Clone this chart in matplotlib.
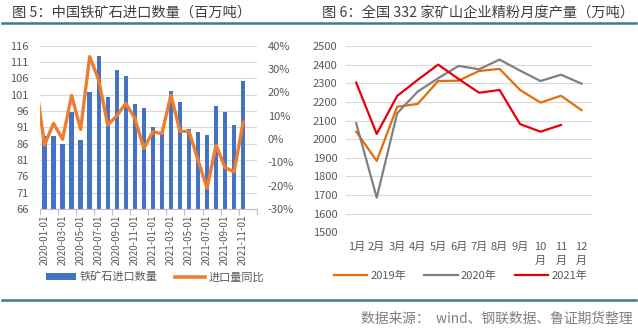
import matplotlib
matplotlib.use("Agg")
import matplotlib.pyplot as plt
from matplotlib.patches import Patch
from matplotlib.lines import Line2D
import numpy as np

plt.rcParams['font.family'] = ['Noto Sans CJK SC', 'DejaVu Sans']

# ---------------- data ----------------
months_left = ['2020-01-01', '2020-02-01', '2020-03-01', '2020-04-01', '2020-05-01', '2020-06-01',
               '2020-07-01', '2020-08-01', '2020-09-01', '2020-10-01', '2020-11-01', '2020-12-01',
               '2021-01-01', '2021-02-01', '2021-03-01', '2021-04-01', '2021-05-01', '2021-06-01',
               '2021-07-01', '2021-08-01', '2021-09-01', '2021-10-01', '2021-11-01', '2021-12-01']
import_volume = [88.5, 88.5, 86.0, 95.8, 87.1, 101.8, 112.9, 100.3, 108.7, 106.8, 98.2, 97.0,
                 91.1, 89.0, 102.1, 98.9, 90.5, 89.6, 88.8, 97.6, 95.8, 91.8, 105.2]
# yoy growth (%), first value is 2019-12 (partly outside the plot)
yoy_months = ['2019-12-01'] + months_left[:23]
yoy_pct = [25.0, -2.6, 6.7, -0.1, 18.7, 4.1, 35.3, 25.3, 6.0, 9.9, 15.3, 8.9, -4.0,
           3.1, 2.3, 18.9, 3.3, 3.3, -9.0, -21.1, -2.6, -12.3, -14.0, 7.2]

months_right = ['1月', '2月', '3月', '4月', '5月', '6月', '7月', '8月', '9月', '10\n月', '11\n月', '12\n月']
prod_2019 = [2040, 1883, 2174, 2189, 2312, 2314, 2366, 2377, 2264, 2196, 2233, 2156]
prod_2020 = [2085, 1686, 2139, 2255, 2327, 2393, 2375, 2427, 2368, 2312, 2346, 2298]
prod_2021 = [2303, 2028, 2232, 2318, 2400, 2323, 2249, 2264, 2081, 2040, 2076]

left_ticks = list(range(66, 117, 5))
right_ticks = list(range(-30, 41, 10))

# ---------------- style ----------------
TXT = '#595959'
GRID = '#D9D9D9'
TEAL = '#3B7F87'
BLUE = '#4472C4'
ORANGE = '#ED7D31'

fig = plt.figure(figsize=(6.38, 3.29), dpi=100)
fig.patch.set_facecolor('white')

# ---------------- left chart ----------------
ax = fig.add_axes([40/638, 1-209/329, (256.7-40)/638, (209-45.7)/329])
x_bar = np.arange(len(import_volume))
ax.bar(x_bar, [v - 66 for v in import_volume], bottom=66, width=0.48, color=BLUE, zorder=2)
ax.set_ylim(66, 116)
ax.set_yticks(left_ticks)
ax.set_yticklabels([str(t) for t in left_ticks])
ax.set_xlim(-0.5, len(months_left) - 0.5)
ax.yaxis.grid(True, color=GRID, linewidth=0.8, zorder=0)
ax.set_axisbelow(True)
for s in ['left', 'right', 'top']:
    ax.spines[s].set_visible(False)
ax.spines['bottom'].set_color('#BFBFBF')
ax.spines['bottom'].set_linewidth(0.8)
ax.tick_params(axis='y', length=0, labelsize=8, colors=TXT, pad=8)
lab_pos = np.arange(0, len(months_left), 2)
ax.set_xticks(lab_pos)
ax.set_xticklabels([months_left[i] for i in lab_pos], rotation=90, fontsize=7, color=TXT)
ax.tick_params(axis='x', which='major', length=0, pad=4)
ax.set_xticks(np.arange(-0.5, len(months_left), 2), minor=True)
ax.tick_params(axis='x', which='minor', length=4, color='#BFBFBF', width=0.8)

ax2 = ax.twinx()
x_line = np.arange(-1, len(yoy_pct) - 1)
ax2.plot(x_line, yoy_pct, color=ORANGE, linewidth=2.4, solid_joinstyle='round', zorder=3)
ax2.set_ylim(-30, 40)
ax2.set_yticks(right_ticks)
ax2.set_yticklabels([f'{t}%' for t in right_ticks])
ax2.set_xlim(-0.5, len(months_left) - 0.5)
for s in ['left', 'right', 'top', 'bottom']:
    ax2.spines[s].set_visible(False)
ax2.tick_params(axis='y', length=0, labelsize=8, colors=TXT, pad=8)

handles_l = [Patch(facecolor=BLUE, edgecolor='none'),
             Line2D([0], [0], color=ORANGE, linewidth=2.6)]
fig.legend(handles_l, ['铁矿石进口数量', '进口量同比'], loc='center',
           bbox_to_anchor=(0.243, 1-277/329), ncol=2, frameon=False,
           fontsize=8, labelcolor=TXT, handlelength=2.7, handleheight=0.5,
           handletextpad=0.3, columnspacing=1.6)

# ---------------- right chart ----------------
bx = fig.add_axes([346/638, 1-232.3/329, (591.7-346)/638, (232.3-46)/329])
xr = np.arange(len(months_right))
bx.plot(xr, prod_2019, color='#E46C0A', linewidth=1.6, label='2019年', zorder=3)
bx.plot(xr, prod_2020, color='#808080', linewidth=1.6, label='2020年', zorder=3)
bx.plot(np.arange(len(prod_2021)), prod_2021, color='#E8000B', linewidth=1.6, label='2021年', zorder=4)
bx.set_ylim(1500, 2500)
bx.set_yticks(range(1500, 2501, 100))
bx.set_xlim(-0.5, len(months_right) - 0.5)
bx.set_xticks(xr)
bx.set_xticklabels(months_right, fontsize=8, color=TXT, linespacing=1.5, va='top')
bx.yaxis.grid(True, color=GRID, linewidth=0.8, zorder=0)
bx.set_axisbelow(True)
for s in ['left', 'right', 'top', 'bottom']:
    bx.spines[s].set_visible(False)
bx.tick_params(axis='y', length=0, labelsize=8, colors=TXT, pad=6)
bx.tick_params(axis='x', length=0, pad=7)

fig.legend(*bx.get_legend_handles_labels(), loc='center',
           bbox_to_anchor=(460.5/638, 1-275.7/329), ncol=3, frameon=False,
           fontsize=8, labelcolor=TXT, handlelength=3.0,
           handletextpad=0.3, columnspacing=1.6)

# ---------------- titles, rules, source ----------------
fig.text(12/638, 1-13/329, '图 5：中国铁矿石进口数量（百万吨）', fontsize=10.3, color='#404040',
         ha='left', va='center')
fig.text(322/638, 1-13/329, '图 6：全国 332 家矿山企业精粉月度产量（万吨）', fontsize=10.3, color='#404040',
         ha='left', va='center')
fig.add_artist(Line2D([0.003, 0.997], [1-22.7/329, 1-22.7/329], color=TEAL, linewidth=1.8))
fig.add_artist(Line2D([0.003, 0.997], [1-299.5/329, 1-299.5/329], color=TEAL, linewidth=1.8))
fig.text(633/638, 1-319/329, '数据来源：  wind、钢联数据、鲁证期货整理', fontsize=9.9, color='#7F7F7F',
         ha='right', va='center')

fig.savefig('out.png', dpi=100, facecolor='white')
